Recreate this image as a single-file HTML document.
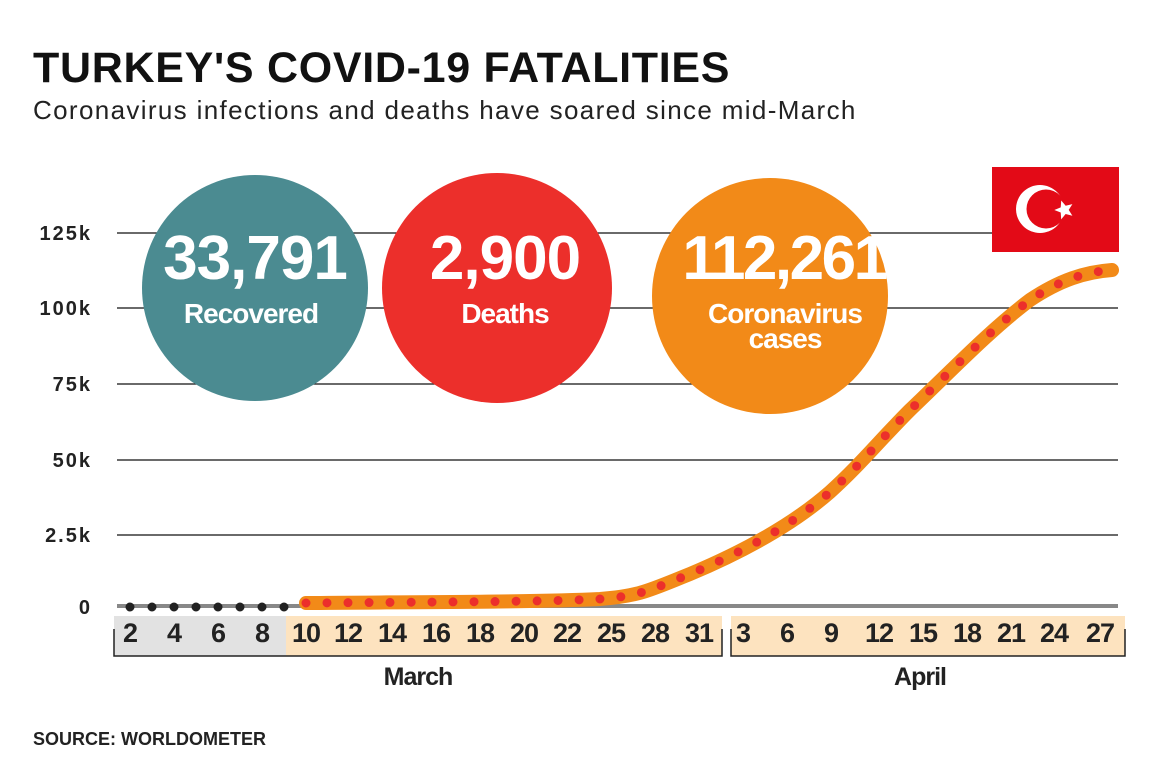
<!DOCTYPE html>
<html><head><meta charset="utf-8"><style>
body{margin:0;background:#fff;}
svg{display:block;font-family:"Liberation Sans",Arial,sans-serif;}
</style></head><body>
<svg width="1155" height="761" viewBox="0 0 1155 761">
<text x="33" y="82" font-size="43" font-weight="bold" fill="#111" letter-spacing="0.7">TURKEY'S COVID-19 FATALITIES</text>
<text x="33" y="119" font-size="26" fill="#222" letter-spacing="1.35">Coronavirus infections and deaths have soared since mid-March</text>
<g stroke="#111" stroke-width="1.2">
<line x1="117" y1="233" x2="1118" y2="233"/>
<line x1="117" y1="308" x2="1118" y2="308"/>
<line x1="117" y1="384" x2="1118" y2="384"/>
<line x1="117" y1="460" x2="1118" y2="460"/>
<line x1="117" y1="535" x2="1118" y2="535"/>
</g>
<line x1="117" y1="606" x2="1118" y2="606" stroke="#888" stroke-width="4"/>
<g font-size="20" font-weight="bold" fill="#222" text-anchor="end" letter-spacing="2">
<text x="92" y="240">125k</text><text x="92" y="315">100k</text><text x="92" y="391">75k</text>
<text x="92" y="467">50k</text><text x="92" y="542">2.5k</text><text x="92" y="614">0</text>
</g>
<rect x="992" y="167" width="127" height="85" fill="#e30a17"/>
<circle cx="1040" cy="209" r="24" fill="#fff"/><circle cx="1046" cy="209" r="19.5" fill="#e30a17"/>
<polygon fill="#fff" points="1064,200 1066.6,206.4 1073.5,206.9 1068.2,211.3 1069.9,218 1064,214.3 1058.1,218 1059.8,211.3 1054.5,206.9 1061.4,206.4" transform="rotate(-18 1064 209)"/>
<circle cx="255" cy="288" r="113" fill="#4b8b91"/>
<circle cx="497" cy="288" r="115" fill="#ec2f2b"/>
<circle cx="770" cy="296" r="118" fill="#f28a18"/>
<g fill="#fff" font-weight="bold" text-anchor="middle">
<text x="255" y="279" font-size="62" letter-spacing="-1">33,791</text>
<text x="251" y="323" font-size="28" letter-spacing="-1">Recovered</text>
<text x="505" y="279" font-size="62" letter-spacing="-1">2,900</text>
<text x="505" y="323" font-size="28" letter-spacing="-1">Deaths</text>
<text x="784" y="279" font-size="62" letter-spacing="-2.5">112,261</text>
<text x="785" y="323" font-size="28" letter-spacing="-1">Coronavirus</text>
<text x="785" y="348" font-size="28" letter-spacing="-1">cases</text>
</g>
<rect x="114" y="616" width="172" height="40" fill="#e2e2e2"/>
<rect x="286" y="616" width="436" height="40" fill="#fde3bf"/>
<rect x="731" y="616" width="394" height="40" fill="#fde3bf"/>
<path d="M114,629 V656 H722 V629 M731,629 V656 H1125 V629" fill="none" stroke="#222" stroke-width="1.5"/>
<g font-size="27" font-weight="bold" fill="#222" text-anchor="middle" letter-spacing="-1">
<text x="130" y="642">2</text><text x="174" y="642">4</text><text x="218" y="642">6</text><text x="262" y="642">8</text>
<text x="306" y="642">10</text><text x="348" y="642">12</text><text x="392" y="642">14</text><text x="436" y="642">16</text>
<text x="480" y="642">18</text><text x="524" y="642">20</text><text x="567" y="642">22</text><text x="611" y="642">25</text>
<text x="655" y="642">28</text><text x="699" y="642">31</text><text x="743" y="642">3</text><text x="787" y="642">6</text>
<text x="831" y="642">9</text><text x="879" y="642">12</text><text x="923" y="642">15</text><text x="967" y="642">18</text>
<text x="1011" y="642">21</text><text x="1054" y="642">24</text><text x="1100" y="642">27</text>
</g>
<g font-size="25" font-weight="bold" fill="#222" text-anchor="middle" letter-spacing="-1">
<text x="418" y="685">March</text><text x="920" y="685">April</text>
</g>
<text x="33" y="745" font-size="18" font-weight="bold" fill="#222">SOURCE: WORLDOMETER</text>
<path d="M130,607 H286" stroke="#222" stroke-width="9" stroke-linecap="round" stroke-dasharray="0 22" fill="none"/>
<path d="M306,603 C420,602 540,602 600,599 C640,596 650,590 690,574 C740,553 790,527 830,492 C860,465 880,440 910,410 C950,372 990,330 1030,300 C1060,280 1085,272 1112,270" fill="none" stroke="#f28a18" stroke-width="14" stroke-linecap="round"/>
<path d="M306,603 C420,602 540,602 600,599 C640,596 650,590 690,574 C740,553 790,527 830,492 C860,465 880,440 910,410 C950,372 990,330 1030,300 C1060,280 1085,272 1112,270" fill="none" stroke="#ec2f2b" stroke-width="9" stroke-linecap="round" stroke-dasharray="0 21"/>
</svg>
</body></html>
